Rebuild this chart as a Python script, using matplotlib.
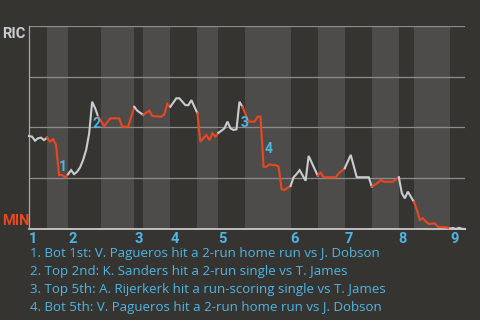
import matplotlib
matplotlib.use("Agg")
import matplotlib.pyplot as plt

# RIC win probability (%) after each play of the game
plays = [0, 1, 2, 3, 4, 5, 6, 7, 8, 9, 10, 11, 12, 13, 14, 15, 16, 17, 18, 19,
         20, 21, 22, 23, 25, 27, 30, 31, 33, 35, 36, 38, 40, 41, 44, 45, 46, 47,
         49, 50, 52, 53, 54, 56, 57, 58, 59, 60, 61, 62, 63, 64, 65, 66, 67, 68,
         69, 70, 71, 73, 75, 76, 77, 78, 79, 80, 81, 82, 83, 84, 85, 86, 87, 88,
         89, 90, 92, 93, 96, 97, 98, 102, 103, 105, 107, 109, 113, 114, 116, 117,
         118, 121, 123, 124, 125, 126, 128, 129, 130, 131, 132, 133, 135, 136,
         139, 140, 141, 142, 143, 144, 145]
win_prob = [45.8, 45.5, 43.5, 44.7, 45.0, 43.8, 45.0, 43.0, 44.3, 41.4, 26.6, 26.6,
            25.5, 27.0, 29.0, 27.0, 28.2, 30.4, 34.0, 38.9, 47.0, 62.7, 59.5, 55.3,
            50.7, 54.5, 54.5, 50.4, 50.4, 60.2, 58.3, 56.2, 58.3, 55.7, 55.3, 56.5,
            61.6, 60.2, 64.4, 64.4, 61.0, 61.0, 63.5, 57.0, 43.0, 44.7, 46.3, 43.8,
            47.1, 45.5, 47.4, 48.4, 49.6, 52.9, 49.6, 48.8, 49.1, 62.7, 60.2, 52.9,
            52.9, 55.3, 55.3, 30.7, 30.7, 31.9, 31.5, 31.5, 30.7, 19.6, 19.2, 20.3,
            21.2, 25.5, 27.1, 29.0, 23.8, 36.0, 26.3, 27.7, 25.5, 25.5, 27.4, 29.9,
            36.5, 25.5, 25.5, 20.8, 22.8, 24.1, 23.3, 23.3, 25.5, 17.6, 15.1, 18.4,
            13.4, 9.4, 4.4, 5.3, 3.6, 2.5, 2.8, 1.1, 0.8, 0.2, 0.5, 0.0, 0.6, 0.1, 0.0]

# play index where each half inning starts (last value = end of game)
half_breaks = [0, 6, 13, 24, 35, 38, 47, 56, 63, 72, 87, 96, 105, 114, 123, 128, 140, 145]
innings = ["1", "2", "3", "4", "5", "6", "7", "8", "9"]

event_plays = [10, 21, 70, 78]
event_labels = ["1", "2", "3", "4"]
event_texts = [
    "1. Bot 1st: V. Pagueros hit a 2-run home run vs J. Dobson",
    "2. Top 2nd: K. Sanders hit a 2-run single vs T. James",
    "3. Top 5th: A. Rijerkerk hit a run-scoring single vs T. James",
    "4. Bot 5th: V. Pagueros hit a 2-run home run vs J. Dobson",
]

bg = "#363431"
band = "#4e4c4a"
gray_line = "#c9cdd1"
red_line = "#ea4720"
blue = "#4db6e6"
label_font = ["Roboto", "DejaVu Sans"]

plt.rcParams["font.family"] = ["Open Sans", "DejaVu Sans"]

fig = plt.figure(figsize=(4.8, 3.2), dpi=100, facecolor=bg)
ax = fig.add_axes([29 / 480, 91 / 320, 436 / 480, 203 / 320])
ax.set_facecolor(bg)
ax.set_xlim(0, 145)
ax.set_ylim(0, 100)
for s in ax.spines.values():
    s.set_visible(False)
ax.set_xticks([])
ax.set_yticks([])

# bottom half innings get the lighter band
for k in range(1, len(half_breaks) - 1, 2):
    ax.axvspan(half_breaks[k], half_breaks[k + 1], color=band, lw=0, zorder=0)

for v in [25, 50, 75, 100]:
    ax.axhline(v, color="#8e8c8a", lw=0.9, zorder=1)
ax.axhline(0, color="#d6d6d6", lw=1.2, zorder=1, clip_on=False)
ax.axvline(0, color="#a8a8a8", lw=0.9, zorder=1, clip_on=False)

# line segments: gray while RIC bats, red while MIN bats
for k in range(len(half_breaks) - 1):
    b0, b1 = half_breaks[k], half_breaks[k + 1]
    i0 = max(i for i, p in enumerate(plays) if p <= b0)
    i1 = max(i for i, p in enumerate(plays) if p <= b1)
    ax.plot(plays[i0:i1 + 1], win_prob[i0:i1 + 1],
            color=gray_line if k % 2 == 0 else red_line,
            lw=1.5, zorder=3, solid_joinstyle="miter", clip_on=False)

# numbered event markers
offsets = [(4, 8), (4, -22), (5, -21), (5, 18)]
for p, lab, off in zip(event_plays, event_labels, offsets):
    ax.annotate(lab, (p, win_prob[plays.index(p)]), xytext=off,
                textcoords="offset pixels", ha="center", va="center",
                color=blue, fontsize=10, fontweight="bold", zorder=4,
                family=label_font)

# inning numbers along the bottom
for k, lab in enumerate(innings):
    ax.text(half_breaks[2 * k], -0.05, lab, transform=ax.get_xaxis_transform(),
            ha="left", va="center", color=blue, fontsize=10.5, fontweight="bold",
            family=label_font)

fig.text(2 / 480, 1 - 27 / 320, "RIC", ha="left", va="top", color="#c8ccd0",
         fontsize=10.5, fontweight="bold", family=label_font)
fig.text(2 / 480, 1 - 228 / 320, "MIN", ha="left", va="bottom", color="#ea4720",
         fontsize=10.5, fontweight="bold", family=label_font)

for j, t in enumerate(event_texts):
    fig.text(30 / 480, 1 - (253 + 18 * j) / 320, t, ha="left", va="center",
             color=blue, fontsize=9.55)

fig.savefig("out.png", dpi=100, facecolor=bg)
